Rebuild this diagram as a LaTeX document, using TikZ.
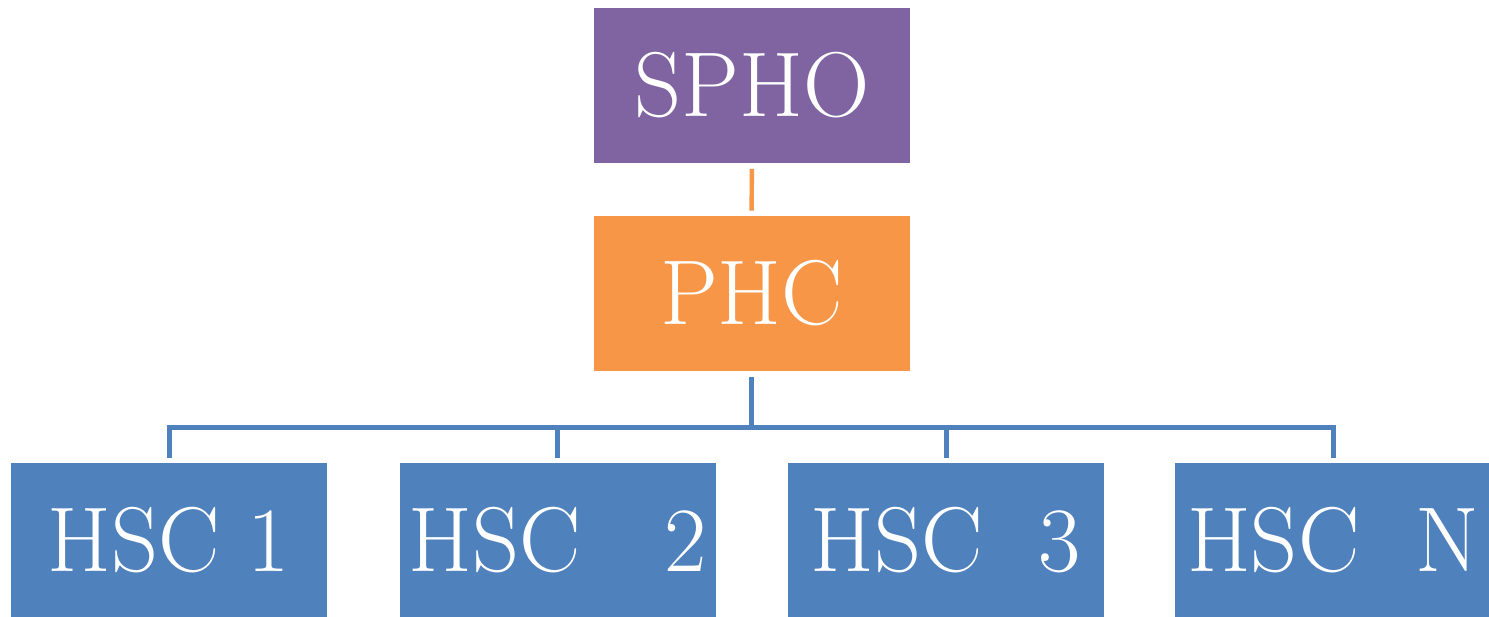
\documentclass[tikz,border=0pt]{standalone}
\usepackage{tikz}
\usepackage{xcolor}
\definecolor{sphopurple}{HTML}{8064A2}
\definecolor{phcorange}{HTML}{F79646}
\definecolor{hscblue}{HTML}{4F81BD}
\tikzset{
    unit-box/.style = {rectangle, text=white, inner sep=0pt, minimum width=158pt, minimum height=77.5pt, font=\fontsize{46}{52}\selectfont},
    spho-box/.style = {unit-box, fill=sphopurple},
    phc-box/.style = {unit-box, fill=phcorange},
    hsc-box/.style = {unit-box, fill=hscblue},
    orange-link/.style = {draw=phcorange, line width=2.2pt, shorten <=3pt, shorten >=2.5pt},
    blue-link/.style = {draw=hscblue, line width=2.5pt, shorten <=3pt, shorten >=2.5pt},
}

\begin{document}
\begin{tikzpicture}[x=0.5pt, y=-0.5pt]
\useasboundingbox (0,0) rectangle (1489,616);
\node [spho-box] (spho) at (752,85) {SPHO};
\node [phc-box] (phc) at (751.5,293.5) {PHC};
\node [hsc-box] (hsc1) at (169,540.5) {HSC 1};
\node [hsc-box] (hsc2) at (557.5,540.5) {HSC\ \ \ 2};
\node [hsc-box] (hsc3) at (946,540.5) {HSC\ \ 3};
\node [hsc-box] (hscn) at (1333,540.5) {HSC\ \ N};
\draw [orange-link] (spho.south) -- (phc.north);
\foreach \n in {hsc1,hsc2,hsc3,hscn}
    \draw [blue-link] (phc.south) -- ++(0,56) -| (\n.north);
\end{tikzpicture}
\end{document}
